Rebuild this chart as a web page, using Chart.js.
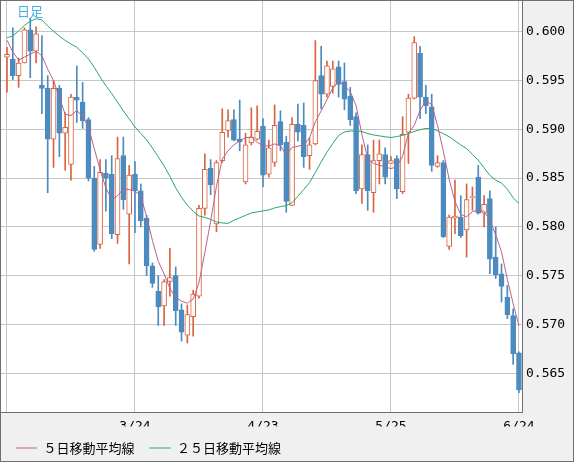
<!DOCTYPE html>
<html><head><meta charset="utf-8">
<script src="https://cdn.jsdelivr.net/npm/chart.js@4.4.1/dist/chart.umd.min.js"></script>
<style>html,body{margin:0;padding:0;background:#f0f0f0}#wrap{width:574px;height:462px;position:relative}</style>
</head><body><div id="wrap"><canvas id="c" width="574" height="462"></canvas></div>
<script>
const dates = ["2/20","2/23","2/24","2/25","2/26","2/27",
"3/2","3/3","3/4","3/5","3/6","3/9","3/10","3/11","3/12","3/13",
"3/16","3/17","3/18","3/19","3/20","3/23","3/24","3/25","3/26","3/27",
"3/30","3/31","4/1","4/2","4/3","4/6","4/7","4/8","4/9","4/10",
"4/13","4/14","4/15","4/16","4/17","4/20","4/21","4/22","4/23","4/24",
"4/27","4/28","4/29","4/30","5/1","5/4","5/5","5/6","5/7","5/8",
"5/11","5/12","5/13","5/14","5/15","5/18","5/19","5/20","5/21","5/22",
"5/25","5/26","5/27","5/28","5/29","6/1","6/2","6/3","6/4","6/5",
"6/8","6/9","6/10","6/11","6/12","6/15","6/16","6/17","6/18","6/19",
"6/22","6/23","6/24"];

const openP = [0.5974,0.5972,0.5955,0.5968,0.6002,0.5980,0.5945,0.5942,0.5890,0.5942,
0.5896,0.5864,0.5933,0.5928,0.5910,0.5850,0.5782,0.5855,0.5854,0.5792,
0.5873,0.5813,0.5854,0.5837,0.5809,0.5760,0.5734,0.5719,0.5744,0.5750,
0.5715,0.5689,0.5708,0.5729,0.5819,0.5860,0.5803,0.5868,0.5899,0.5910,
0.5890,0.5846,0.5886,0.5890,0.5903,0.5854,0.5866,0.5908,0.5887,0.5822,
0.5905,0.5904,0.5873,0.5885,0.5955,0.5936,0.5944,0.5964,0.5949,0.5934,
0.5913,0.5839,0.5874,0.5835,0.5868,0.5874,0.5865,0.5870,0.5836,0.5897,
0.5932,0.5978,0.5933,0.5923,0.5862,0.5866,0.5780,0.5809,0.5810,0.5797,
0.5830,0.5851,0.5814,0.5829,0.5769,0.5752,0.5728,0.5709,0.5671];
const highP = [0.5984,0.6004,0.5973,0.6004,0.6014,0.6005,0.5996,0.5955,0.5950,0.5945,
0.5917,0.5936,0.5965,0.5948,0.5912,0.5862,0.5869,0.5869,0.5873,0.5892,
0.5892,0.5863,0.5867,0.5844,0.5812,0.5763,0.5750,0.5746,0.5778,0.5759,
0.5721,0.5720,0.5735,0.5822,0.5875,0.5869,0.5868,0.5921,0.5920,0.5920,
0.5930,0.5896,0.5922,0.5924,0.5911,0.5889,0.5925,0.5919,0.5893,0.5912,
0.5926,0.5927,0.5891,0.5991,0.5985,0.5970,0.5970,0.5970,0.5968,0.5943,
0.5917,0.5884,0.5884,0.5889,0.5889,0.5881,0.5872,0.5873,0.5913,0.5936,
0.5995,0.5985,0.5945,0.5936,0.5873,0.5868,0.5812,0.5848,0.5832,0.5844,
0.5841,0.5863,0.5832,0.5837,0.5800,0.5762,0.5740,0.5716,0.5672];
const lowP = [0.5938,0.5951,0.5943,0.5968,0.5953,0.5968,0.5916,0.5835,0.5861,0.5872,
0.5858,0.5848,0.5907,0.5901,0.5847,0.5775,0.5778,0.5816,0.5788,0.5783,
0.5818,0.5762,0.5794,0.5800,0.5750,0.5738,0.5699,0.5699,0.5729,0.5699,
0.5683,0.5681,0.5688,0.5727,0.5812,0.5833,0.5795,0.5866,0.5892,0.5888,
0.5878,0.5844,0.5884,0.5889,0.5841,0.5851,0.5862,0.5878,0.5815,0.5822,
0.5888,0.5861,0.5859,0.5884,0.5921,0.5933,0.5937,0.5933,0.5920,0.5904,
0.5834,0.5824,0.5817,0.5815,0.5844,0.5844,0.5865,0.5829,0.5834,0.5865,
0.5931,0.5911,0.5916,0.5857,0.5861,0.5789,0.5777,0.5793,0.5789,0.5769,
0.5817,0.5813,0.5800,0.5752,0.5747,0.5723,0.5706,0.5659,0.5630];
const closeP = [0.5977,0.5955,0.5968,0.6002,0.5980,0.5998,0.5942,0.5890,0.5942,0.5896,
0.5902,0.5933,0.5930,0.5909,0.5850,0.5777,0.5856,0.5850,0.5793,0.5870,
0.5828,0.5853,0.5837,0.5806,0.5760,0.5742,0.5718,0.5744,0.5748,0.5714,
0.5692,0.5710,0.5731,0.5819,0.5859,0.5843,0.5866,0.5897,0.5909,0.5889,
0.5887,0.5884,0.5892,0.5898,0.5853,0.5881,0.5904,0.5884,0.5826,0.5905,
0.5897,0.5872,0.5884,0.5950,0.5936,0.5965,0.5962,0.5946,0.5931,0.5910,
0.5837,0.5874,0.5837,0.5868,0.5875,0.5851,0.5868,0.5839,0.5895,0.5932,
0.5989,0.5933,0.5924,0.5863,0.5866,0.5790,0.5810,0.5811,0.5791,0.5828,
0.5831,0.5814,0.5823,0.5767,0.5751,0.5739,0.5710,0.5670,0.5633];

const ma5 = [0.59913,0.59793,0.59711,0.59740,0.59771,0.59799,0.59755,0.59617,0.59500,0.59329,
0.59154,0.59141,0.59194,0.59130,0.59024,0.58803,0.58584,0.58399,0.58281,0.58319,
0.58391,0.58382,0.58367,0.58315,0.58103,0.57860,0.57647,0.57518,0.57369,0.57280,
0.57238,0.57218,0.57260,0.57428,0.57736,0.58055,0.58415,0.58696,0.58780,0.58841,
0.58882,0.58914,0.58921,0.58866,0.58834,0.58828,0.58851,0.58830,0.58740,0.58815,
0.58827,0.58841,0.58912,0.59077,0.59189,0.59304,0.59424,0.59489,0.59447,0.59385,
0.59244,0.58949,0.58696,0.58651,0.58633,0.58613,0.58598,0.58615,0.58725,0.58957,
0.59041,0.59195,0.59291,0.59255,0.59041,0.58774,0.58487,0.58260,0.58127,0.58104,
0.58157,0.58170,0.58162,0.58067,0.57919,0.57744,0.57463,0.57212,0.56988];
const ma25 = [0.59938,0.59958,0.60009,0.60065,0.60108,0.60134,0.60121,0.60060,0.60005,0.59956,
0.59911,0.59875,0.59841,0.59785,0.59722,0.59635,0.59536,0.59447,0.59367,0.59280,
0.59189,0.59107,0.59024,0.58958,0.58892,0.58809,0.58718,0.58625,0.58518,0.58400,
0.58302,0.58224,0.58160,0.58111,0.58098,0.58077,0.58051,0.58040,0.58036,0.58068,
0.58093,0.58118,0.58143,0.58154,0.58163,0.58174,0.58194,0.58208,0.58218,0.58247,
0.58314,0.58383,0.58453,0.58558,0.58666,0.58767,0.58855,0.58937,0.58973,0.58983,
0.58983,0.58977,0.58957,0.58943,0.58933,0.58924,0.58916,0.58926,0.58938,0.58957,
0.58978,0.58997,0.59009,0.59009,0.58984,0.58955,0.58924,0.58882,0.58840,0.58802,
0.58742,0.58684,0.58605,0.58528,0.58479,0.58450,0.58387,0.58298,0.58240];

const tickIdx = [0, 22, 44, 66, 88];
const tickLabels = ["", "3/24", "4/23", "5/25", "6/24"];
const yTicks = [0.565, 0.570, 0.575, 0.580, 0.585, 0.590, 0.595, 0.600];
const seriesNames = ["５日移動平均線", "２５日移動平均線"];

const UP = '#d9643f', DOWN = '#4b8bbf';
const isUp = dates.map((d, i) => closeP[i] >= openP[i]);

const framePlugin = {
  id: 'frame',
  beforeDraw(chart) {
    const {ctx, chartArea: a} = chart;
    ctx.save();
    ctx.fillStyle = '#f0f0f0';
    ctx.fillRect(0, 0, chart.width, chart.height);
    ctx.fillStyle = '#ffffff';
    ctx.fillRect(a.left, a.top, a.right - a.left, a.bottom - a.top);
    ctx.restore();
  },
  afterDraw(chart) {
    const {ctx, chartArea: a} = chart;
    ctx.save();
    ctx.strokeStyle = '#6f6f6f';
    ctx.lineWidth = 1;
    ctx.strokeRect(Math.round(a.left) - 0.5, Math.round(a.top) - 0.5,
      Math.round(a.right - a.left) + 1, Math.round(a.bottom - a.top) + 1);
    ctx.strokeRect(0.5, 0.5, chart.width - 1, chart.height - 1);
    ctx.fillStyle = '#3cb0e6';
    ctx.font = "13px 'Noto Sans CJK JP'";
    ctx.textBaseline = 'middle';
    ctx.fillText('日足', 17, 11);
    ctx.restore();
  }
};

const monoFont = {family: "'DejaVu Sans Mono', monospace", size: 13};

new Chart(document.getElementById('c'), {
  type: 'bar',
  data: {
    datasets: [
      {
        type: 'line', label: seriesNames[0], order: 0,
        data: ma5.map((v, i) => ({x: i, y: v})),
        borderColor: '#b8628c', borderWidth: 1, pointRadius: 0, tension: 0, fill: false
      },
      {
        type: 'line', label: seriesNames[1], order: 0,
        data: ma25.map((v, i) => ({x: i, y: v})),
        borderColor: '#26a96c', borderWidth: 1, pointRadius: 0, tension: 0, fill: false
      },
      {
        label: 'body', order: 1, grouped: false,
        data: openP.map((o, i) => ({x: i, y: [o, closeP[i]]})),
        backgroundColor: isUp.map(u => u ? '#ffffff' : DOWN),
        borderColor: isUp.map(u => u ? UP : DOWN),
        borderWidth: 1, borderSkipped: false, barThickness: 5
      },
      {
        label: 'wick', order: 2, grouped: false,
        data: lowP.map((l, i) => ({x: i, y: [l, highP[i]]})),
        backgroundColor: isUp.map(u => u ? UP : DOWN),
        borderWidth: 0, barThickness: 1
      }
    ]
  },
  options: {
    responsive: false, animation: false,
    layout: {padding: {left: 1, top: 1, right: 0, bottom: -2.5}},
    scales: {
      x: {
        type: 'linear', offset: false, min: -1.03, max: 88.52,
        afterBuildTicks: (s) => { s.ticks = tickIdx.map(v => ({value: v})); },
        afterFit: (s) => { s.height = 14.5; s.paddingLeft = 0; s.paddingRight = 0; },
        grid: {color: '#c6c6c6', lineWidth: 1, drawTicks: false, offset: false},
        border: {display: false},
        ticks: {
          autoSkip: false, maxRotation: 0, padding: 7, color: '#000', font: monoFont,
          callback: (v) => { const k = tickIdx.indexOf(v); return k >= 0 ? tickLabels[k] : ''; }
        }
      },
      y: {
        type: 'linear', position: 'right', min: 0.561024, max: 0.603155,
        afterBuildTicks: (s) => { s.ticks = yTicks.map(v => ({value: v})); },
        afterFit: (s) => { s.width = 52; s.paddingTop = 0; s.paddingBottom = 0; },
        grid: {color: '#c6c6c6', lineWidth: 1, drawTicks: false},
        border: {display: false},
        ticks: {padding: 4, color: '#000', font: monoFont, callback: (v) => v.toFixed(3)}
      }
    },
    plugins: {
      legend: {
        position: 'bottom', align: 'start',
        labels: {
          filter: (item) => item.datasetIndex < 2,
          usePointStyle: true, pointStyle: 'line', pointStyleWidth: 21,
          padding: 15, color: '#000',
          font: {family: "'Noto Sans CJK JP'", size: 13}
        }
      },
      tooltip: {enabled: false}
    }
  },
  plugins: [framePlugin]
});
</script></body></html>
